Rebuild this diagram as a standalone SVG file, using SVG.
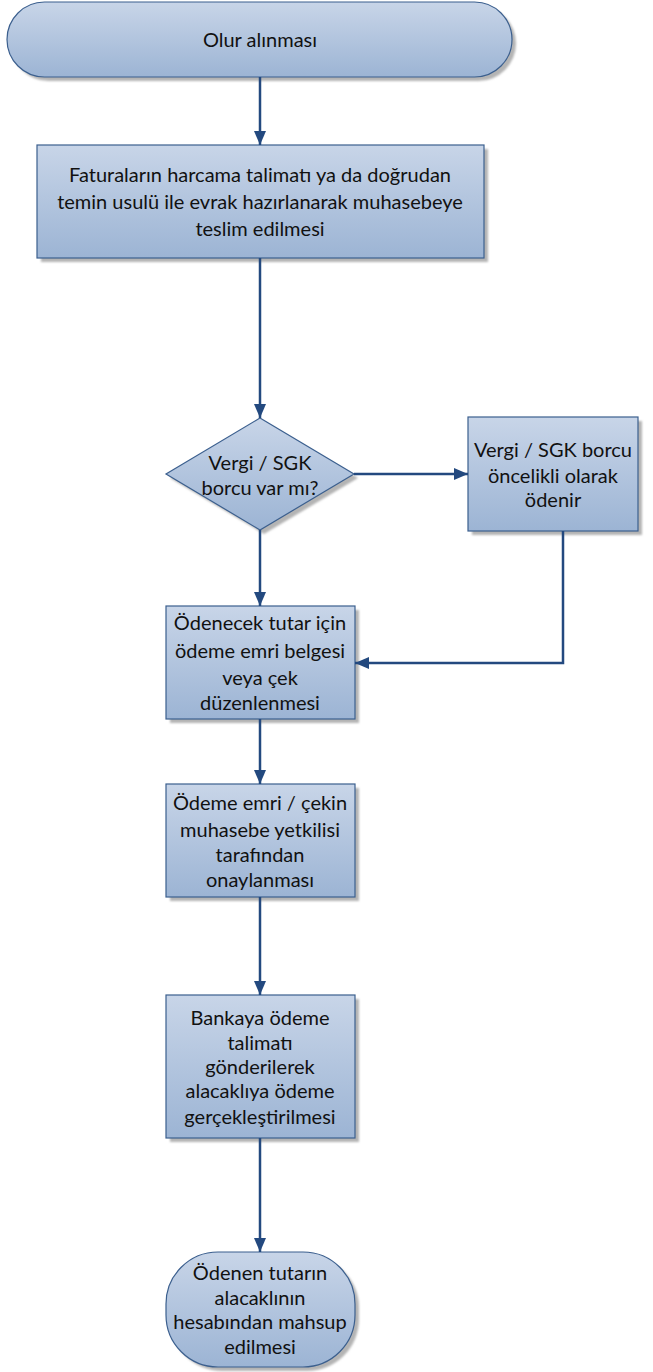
<svg xmlns="http://www.w3.org/2000/svg" width="653" height="1372" viewBox="0 0 653 1372">
<defs>
<linearGradient id="g" x1="0" y1="0" x2="0" y2="1">
<stop offset="0" stop-color="#c8d5e8"/>
<stop offset="1" stop-color="#9cb4d4"/>
</linearGradient>
<filter id="sh" x="-10%" y="-10%" width="130%" height="130%">
<feGaussianBlur stdDeviation="1.2"/>
</filter>
<marker id="ah" viewBox="0 0 14 12" refX="14" refY="6" markerWidth="14" markerHeight="12" markerUnits="userSpaceOnUse" orient="auto">
<path d="M0,0 L14,6 L0,12 Z" fill="#23497f"/>
</marker>
<style>
.shape{fill:url(#g);stroke:#3b5f8e;stroke-width:1.2}
.shadow{fill:#b4b4b4;filter:url(#sh)}
.t{font-family:Lato,"Open Sans",sans-serif;font-size:20px;fill:#111;text-anchor:middle}
.c{fill:none;stroke:#23497f;stroke-width:2.5;marker-end:url(#ah)}
</style>
</defs>
<rect width="653" height="1372" fill="#fff"/>
<g id="n1">
<rect class="shadow" x="11" y="6" width="505" height="75" rx="37.5"/>
<rect class="shape" x="7" y="2" width="505" height="75" rx="37.5"/>
<text class="t" x="260" y="47">Olur alınması</text>
</g>
<g id="n2">
<rect class="shadow" x="41" y="149" width="447" height="113"/>
<rect class="shape" x="37" y="145" width="447" height="113"/>
<text class="t" x="260" y="182">Faturaların harcama talimatı ya da doğrudan</text>
<text class="t" x="260" y="209">temin usulü ile evrak hazırlanarak muhasebeye</text>
<text class="t" x="260" y="236">teslim edilmesi</text>
</g>
<g id="n3">
<polygon class="shadow" points="264,422 358,478 264,534 170,478"/>
<polygon class="shape" points="260,418 354,474 260,530 166,474"/>
<text class="t" x="260" y="470">Vergi / SGK</text>
<text class="t" x="260" y="495">borcu var mı?</text>
</g>
<g id="n4">
<rect class="shadow" x="472" y="421" width="170" height="114"/>
<rect class="shape" x="468" y="417" width="170" height="114"/>
<text class="t" x="553" y="457">Vergi / SGK borcu</text>
<text class="t" x="553" y="483">öncelikli olarak</text>
<text class="t" x="553" y="507">ödenir</text>
</g>
<g id="n5">
<rect class="shadow" x="170" y="610" width="189" height="113"/>
<rect class="shape" x="166" y="606" width="189" height="113"/>
<text class="t" x="260" y="630">Ödenecek tutar için</text>
<text class="t" x="260" y="658">ödeme emri belgesi</text>
<text class="t" x="260" y="685">veya çek</text>
<text class="t" x="260" y="710">düzenlenmesi</text>
</g>
<g id="n6">
<rect class="shadow" x="170" y="788" width="189" height="113"/>
<rect class="shape" x="166" y="784" width="189" height="113"/>
<text class="t" x="260" y="810">Ödeme emri / çekin</text>
<text class="t" x="260" y="837">muhasebe yetkilisi</text>
<text class="t" x="260" y="862">tarafından</text>
<text class="t" x="260" y="887">onaylanması</text>
</g>
<g id="n7">
<rect class="shadow" x="170" y="999" width="189" height="143"/>
<rect class="shape" x="166" y="995" width="189" height="143"/>
<text class="t" x="260" y="1025">Bankaya ödeme</text>
<text class="t" x="260" y="1050">talimatı</text>
<text class="t" x="260" y="1074">gönderilerek</text>
<text class="t" x="260" y="1098">alacaklıya ödeme</text>
<text class="t" x="260" y="1124">gerçekleştirilmesi</text>
</g>
<g id="n8">
<rect class="shadow" x="170" y="1256" width="189" height="115" rx="52"/>
<rect class="shape" x="166" y="1252" width="189" height="115" rx="52"/>
<text class="t" x="260" y="1280">Ödenen tutarın</text>
<text class="t" x="260" y="1305">alacaklının</text>
<text class="t" x="260" y="1329">hesabından mahsup</text>
<text class="t" x="260" y="1354">edilmesi</text>
</g>
<g id="connectors">
<path class="c" d="M260,77 L260,145"/>
<path class="c" d="M260,258 L260,418"/>
<path class="c" d="M354,474 L468,474"/>
<path class="c" d="M260,530 L260,606"/>
<path class="c" d="M563,531 L563,663 L355,663"/>
<path class="c" d="M260,719 L260,784"/>
<path class="c" d="M260,897 L260,995"/>
<path class="c" d="M260,1138 L260,1252"/>
</g>
</svg>
